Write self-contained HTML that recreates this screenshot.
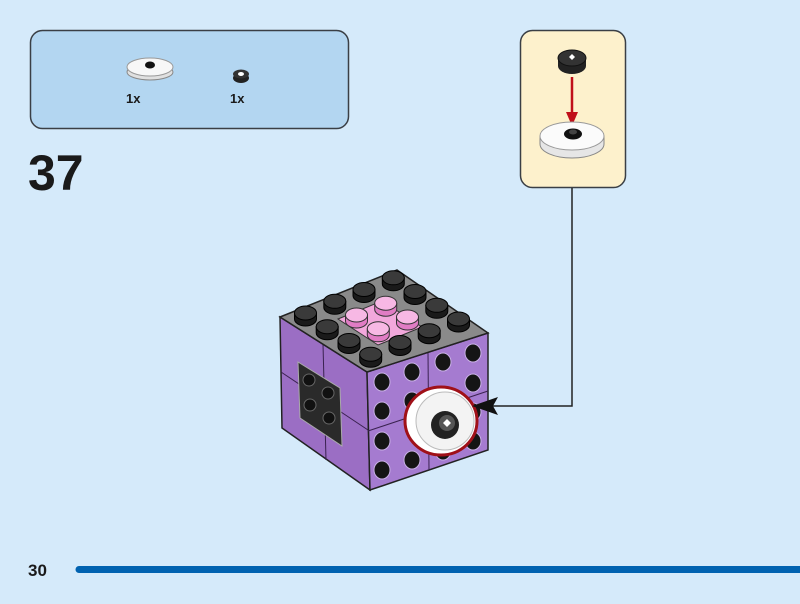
<!DOCTYPE html>
<html><head><style>
html,body{margin:0;padding:0;background:#d5eafa;}
svg{display:block;}
text{font-family:"Liberation Sans",sans-serif;font-weight:bold;fill:#1a1a1a;}
</style></head><body>
<svg width="800" height="604" viewBox="0 0 800 604">
<rect width="800" height="604" fill="#d5eafa"/>
<rect x="30.5" y="30.5" width="318" height="98" rx="12" fill="#b3d6f1" stroke="#3a3f45" stroke-width="1.5"/>
<ellipse cx="150" cy="72" rx="23" ry="8" fill="#e0e0e0" stroke="#888"/>
<ellipse cx="150" cy="67" rx="23" ry="9" fill="#f7f7f7" stroke="#999"/>
<ellipse cx="150" cy="65" rx="5" ry="3.5" fill="#111"/>
<text x="126" y="103" font-size="13">1x</text>
<ellipse cx="241" cy="78" rx="8" ry="5" fill="#222"/>
<ellipse cx="241" cy="74" rx="8" ry="4.5" fill="#333"/>
<ellipse cx="241" cy="74" rx="3" ry="2" fill="#fff"/>
<text x="230" y="103" font-size="13">1x</text>
<text x="28" y="190" font-size="50">37</text>
<rect x="520.5" y="30.5" width="105" height="157" rx="12" fill="#fdf1cc" stroke="#3a3f45" stroke-width="1.5"/>
<ellipse cx="572" cy="66" rx="14" ry="8" fill="#222"/>
<rect x="558" y="58" width="28" height="8" fill="#222"/>
<ellipse cx="572" cy="58" rx="14" ry="8" fill="#333" stroke="#111"/>
<path d="M569 57l3-3 3 3-3 3z" fill="#fff"/>
<line x1="572" y1="77" x2="572" y2="118" stroke="#c0101a" stroke-width="2.5"/>
<path d="M566 112h12l-6 14z" fill="#c0101a"/>
<path d="M540 136v8a32 14 0 0 0 64 0v-8z" fill="#e6e6e6" stroke="#888"/>
<ellipse cx="572" cy="136" rx="32" ry="14" fill="#fbfbfb" stroke="#999"/>
<ellipse cx="573" cy="134" rx="9" ry="5.5" fill="#111"/>
<ellipse cx="573" cy="132" rx="4" ry="2.5" fill="#444"/>
<polygon points="280,317 367,372 370,490 282,428" fill="#9b6ec4" stroke="#222" stroke-width="1.5"/>
<line x1="323" y1="344" x2="326" y2="460" stroke="#3a2250"/>
<line x1="281" y1="372" x2="368" y2="430" stroke="#3a2250"/>
<polygon points="298,362 340,388 342,446 300,418" fill="#2a2a2a" stroke="#aaa"/>
<g fill="#111" stroke="#666">
<circle cx="309" cy="380" r="6"/><circle cx="328" cy="393" r="6"/>
<circle cx="310" cy="405" r="6"/><circle cx="329" cy="418" r="6"/>
</g>
<polygon points="367,372 488,333 488,450 370,490" fill="#a57bd0" stroke="#222" stroke-width="1.5"/>
<line x1="428" y1="352" x2="429" y2="470" stroke="#3a2250"/>
<line x1="368" y1="431" x2="488" y2="391" stroke="#3a2250"/>
<g fill="#151515" stroke="#c9b0e6">
<ellipse cx="382" cy="382" rx="8" ry="9"/><ellipse cx="412" cy="372" rx="8" ry="9"/><ellipse cx="443" cy="362" rx="8" ry="9"/><ellipse cx="473" cy="353" rx="8" ry="9"/>
<ellipse cx="382" cy="411" rx="8" ry="9"/><ellipse cx="412" cy="401" rx="8" ry="9"/><ellipse cx="473" cy="383" rx="8" ry="9"/>
<ellipse cx="382" cy="441" rx="8" ry="9"/><ellipse cx="473" cy="412" rx="8" ry="9"/>
<ellipse cx="382" cy="470" rx="8" ry="9"/><ellipse cx="412" cy="460" rx="8" ry="9"/><ellipse cx="443" cy="451" rx="8" ry="9"/><ellipse cx="473" cy="441" rx="8" ry="9"/>
</g>
<ellipse cx="441" cy="421" rx="36" ry="34" fill="#fff" stroke="#a01018" stroke-width="3"/>
<ellipse cx="445" cy="421" rx="29" ry="29" fill="#f3f3f3" stroke="#bbb"/>
<ellipse cx="445" cy="425" rx="14" ry="14" fill="#222"/>
<ellipse cx="447" cy="423" rx="8" ry="8" fill="#555"/>
<path d="M443 423l4-4 4 4-4 4z" fill="#fff"/>
<polygon points="280,317 397,270 488,333 367,372" fill="#8a8a8a" stroke="#222" stroke-width="1.5"/>
<polygon points="338,319 382,301 422,327 378,345" fill="#f2a8dc" stroke="#333"/>
<g fill="#1a1a1a" stroke="#000">
<path d="M294.5 313v6a11 7 0 0 0 22 0v-6z"/><path d="M316.2 326.7v6a11 7 0 0 0 22 0v-6z"/><path d="M338 340.5v6a11 7 0 0 0 22 0v-6z"/><path d="M359.7 354.2v6a11 7 0 0 0 22 0v-6z"/>
<path d="M323.8 301.3v6a11 7 0 0 0 22 0v-6z"/><path d="M389 342.5v6a11 7 0 0 0 22 0v-6z"/>
<path d="M353 289.5v6a11 7 0 0 0 22 0v-6z"/><path d="M418.2 330.7v6a11 7 0 0 0 22 0v-6z"/>
<path d="M382.3 277.8v6a11 7 0 0 0 22 0v-6z"/><path d="M404 291.5v6a11 7 0 0 0 22 0v-6z"/><path d="M425.8 305.3v6a11 7 0 0 0 22 0v-6z"/><path d="M447.5 319v6a11 7 0 0 0 22 0v-6z"/>
</g>
<g fill="#3a3a3a" stroke="#000">
<ellipse cx="305.5" cy="313" rx="11" ry="7"/><ellipse cx="327.2" cy="326.7" rx="11" ry="7"/><ellipse cx="349" cy="340.5" rx="11" ry="7"/><ellipse cx="370.7" cy="354.2" rx="11" ry="7"/>
<ellipse cx="334.8" cy="301.3" rx="11" ry="7"/><ellipse cx="400" cy="342.5" rx="11" ry="7"/>
<ellipse cx="364" cy="289.5" rx="11" ry="7"/><ellipse cx="429.2" cy="330.7" rx="11" ry="7"/>
<ellipse cx="393.3" cy="277.8" rx="11" ry="7"/><ellipse cx="415" cy="291.5" rx="11" ry="7"/><ellipse cx="436.8" cy="305.3" rx="11" ry="7"/><ellipse cx="458.5" cy="319" rx="11" ry="7"/>
</g>
<g fill="#e07cc4" stroke="#333">
<path d="M345.5 315v6a11 7 0 0 0 22 0v-6z"/><path d="M367.3 328.8v6a11 7 0 0 0 22 0v-6z"/><path d="M374.7 303.2v6a11 7 0 0 0 22 0v-6z"/><path d="M396.5 317v6a11 7 0 0 0 22 0v-6z"/>
</g>
<g fill="#f7b8e4" stroke="#333">
<ellipse cx="356.5" cy="315" rx="11" ry="7"/><ellipse cx="378.3" cy="328.8" rx="11" ry="7"/><ellipse cx="385.7" cy="303.2" rx="11" ry="7"/><ellipse cx="407.5" cy="317" rx="11" ry="7"/>
</g>
<polyline points="572,188 572,406 492,406" fill="none" stroke="#222" stroke-width="1.5"/>
<path d="M472 406l26-9-5 9 5 9z" fill="#111"/>
<text x="28" y="576" font-size="17">30</text>
<line x1="79" y1="569.5" x2="800" y2="569.5" stroke="#0062b0" stroke-width="7" stroke-linecap="round"/>
</svg>
</body></html>
